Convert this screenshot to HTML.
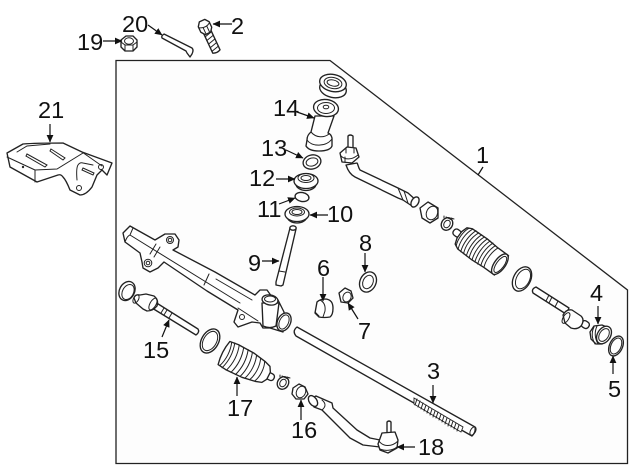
<!DOCTYPE html>
<html><head><meta charset="utf-8"><style>
html,body{margin:0;padding:0;background:#fff}
svg{display:block}
text{font-family:"Liberation Sans",sans-serif;font-size:23.5px;fill:#111}
.p{fill:#fff;stroke:#222;stroke-width:1.35;stroke-linejoin:round;stroke-linecap:round}
.t{fill:none;stroke:#222;stroke-width:1;stroke-linecap:round}
.a{stroke:#111;stroke-width:1.2;fill:none}
.h{fill:#111;stroke:none}
</style></head><body>
<svg width="640" height="471" viewBox="0 0 640 471" xmlns="http://www.w3.org/2000/svg">
<defs>
<marker id="m" markerUnits="userSpaceOnUse" markerWidth="8" markerHeight="8" refX="7" refY="4" orient="auto"><path d="M0 .6L7.500 4L0 7.400z" class="h"/></marker>
</defs>
<rect width="640" height="471" fill="#fff"/>
<path d="M116 60.500H330L627.500 290V463.500H116Z" fill="#fdfdfd" stroke="#222" stroke-width="1.300"/>
<path d="M483 167L478 175" class="a"/>

<!-- 19 nut -->
<g transform="translate(129,44)"><path class="p" d="M-8-4L-3-8H4L8-4V3L4 7H-4L-8 3Z"/><ellipse cx="0" cy="-3" rx="4.500" ry="3.200" class="t"/><path class="t" d="M-8-2L-4 1V7M8-2L4 1V7M-4 1H4"/></g>
<!-- 20 pin -->
<path class="p" d="M164 34L188 46L192 48Q194 50 192 54L190 57L187 53L186 51L162 38Q161 36 164 34Z"/>
<!-- 2 bolt -->
<g transform="translate(205,27) rotate(-25)">
<path class="p" d="M-4 4H4V27Q0 29-4 27Z"/>
<path class="t" d="M-4 9L4 7M-4 13L4 11M-4 17L4 15M-4 21L4 19M-4 25L4 23"/>
<path class="p" d="M-6-3L-3-7H3L6-3V3L3 7H-3L-6 3Z"/>
<path class="t" d="M-6-2Q0 2 6-2M-2 0V7M2 0V7"/>
</g>

<!-- 21 bracket -->
<path class="p" d="M7 153L23 144Q35 143 63 143L82 152L112 163L107 175L102 170L97 175L92 187Q86 195 80 195L70 190Q66 180 63 177Q61 174 58 175L37 182L10 167Z"/>
<path class="t" d="M7 157L35 170V182M35 170L57 169L83 153M17 152L27 146L50 144M77 180Q76 168 78 165Q80 162 83 163L93 165M82 152L102 166"/>
<path class="t" d="M27 154L47 165L45 167L26 156ZM51 149L65 158L63 160L50 151ZM83 168L94 173L93 175L82 170Z"/>
<circle cx="79" cy="188" r="2.500" class="t"/><circle cx="101" cy="167" r="2.500" class="t"/><circle cx="23" cy="167" r=".7" class="t"/>

<!-- 14 cap -->
<ellipse cx="333" cy="89" rx="13.500" ry="8.500" class="p" transform="rotate(12 333 89)"/>
<ellipse cx="333" cy="83" rx="13.500" ry="8.500" class="p" transform="rotate(12 333 83)"/>
<ellipse cx="333" cy="83" rx="9" ry="5.500" class="t" transform="rotate(12 333 83)"/>
<ellipse cx="333" cy="83" rx="6" ry="3" class="t" transform="rotate(12 333 83)"/>
<!-- 14 sleeve -->
<path class="p" d="M307 140L306 146Q309 151 319 151Q330 151 332 146L332 138Q331 134 328 133L334 116H315L311 132Q307 135 307 140Z"/>
<path class="t" d="M307 140C312 147 326 147 332 139M311 132C316 138 324 138 329 134"/>
<ellipse cx="326" cy="108" rx="12.500" ry="8.500" class="p" transform="rotate(8 326 108)"/>
<ellipse cx="326" cy="108" rx="8.500" ry="5.500" class="t"/><ellipse cx="326" cy="107" rx="2.800" ry="1.800" class="t"/>
<!-- 13 -->
<ellipse cx="312" cy="162" rx="9" ry="7" class="p" transform="rotate(-15 312 162)"/><ellipse cx="312" cy="162" rx="6" ry="4" class="t" transform="rotate(-15 312 162)"/>
<!-- 12 -->
<ellipse cx="306" cy="184" rx="10" ry="6.500" class="p"/><ellipse cx="306" cy="181" rx="12" ry="7.500" class="p"/><ellipse cx="306" cy="178" rx="8" ry="4.500" class="t"/><ellipse cx="306" cy="178" rx="5" ry="2.500" class="t"/>
<!-- 11 -->
<ellipse cx="302" cy="197" rx="7" ry="4.500" class="p" transform="rotate(10 302 197)"/>
<!-- 10 -->
<ellipse cx="297" cy="216" rx="10" ry="7" class="p"/><ellipse cx="297" cy="214" rx="12" ry="7.500" class="p"/><ellipse cx="297" cy="212" rx="7.500" ry="4" class="t"/><ellipse cx="297" cy="212" rx="5" ry="2.500" class="t"/>
<!-- 9 stud -->
<path class="p" d="M290 228L296 229L283 285L281 286L276 285L276 282Z"/><ellipse cx="293" cy="228" rx="3.200" ry="2.200" class="p"/><path class="t" d="M279 271L285 272"/>

<!-- upper tie rod -->
<path class="p" d="M348 136Q350 134 353 136L353 148L348 148Z"/>
<path class="p" d="M346 165C348 171 351 175 355 177L398 198L403 200L412 206L418 202L408 193L398 188L360 170C358 167 358 164 357 163Z"/>
<path class="t" d="M398 188L403 200M404 191L408 203"/>
<ellipse cx="415" cy="202" rx="3.500" ry="5.500" class="p" transform="rotate(30 415 202)"/>
<path class="p" d="M340 153L347 147L356 148L359 157L352 163L342 162Z"/>
<path class="t" d="M341 156C345 160 352 160 358 155M346 148L346 153M354 148L354 153M345 162L345 157"/>
<!-- upper nut -->
<path class="p" d="M420 208L428 202L438 208L438 218L430 223L422 218Z"/>
<ellipse cx="432" cy="213" rx="5.500" ry="7" class="t" transform="rotate(25 432 213)"/>
<!-- upper clip -->
<ellipse cx="447" cy="224" rx="5.500" ry="6.500" class="p" transform="rotate(30 447 224)"/><ellipse cx="447" cy="224" rx="3" ry="4" class="t" transform="rotate(30 447 224)"/><path class="t" d="M444 216L444 218M451 218L454 219M446 217L452 220"/>

<!-- upper boot -->
<g transform="translate(457,233) rotate(36)">
<rect x="-4" y="-3.500" width="8" height="7" rx="3" class="p"/>
<path class="p" d="M3-4L5-10L10-12.500L28-13L42-12L55-12L58 0L55 12L42 12L28 13L10 12.500L5 10L3 4Z"/>
<path class="t" d="M7-11C4-5 4 5 7 11M10.500-12.500C7-5 7 5 10.500 12.500M14-13C11-5 11 5 14 13M17.500-13C14-5 14 5 17.500 13M21-13C18-5 18 5 21 13M24.500-13C21-5 21 5 24.500 13M28-13C25-5 25 5 28 13M31.500-13C28.500-5 28.500 5 31.500 13M35-13C32-5 32 5 35 13M38.500-12.500C35.500-5 35.500 5 38.500 12.500M42-12C39-5 39 5 42 12"/>
<ellipse cx="53" cy="0" rx="5.500" ry="12" class="p"/>
<ellipse cx="53.500" cy="0" rx="3.800" ry="9.500" class="t"/>
</g>
<!-- ring upper -->
<ellipse cx="522" cy="279" rx="8.500" ry="13" class="p" transform="rotate(28 522 279)"/><ellipse cx="523" cy="279" rx="6.500" ry="10.500" class="t" transform="rotate(28 523 279)"/>
<!-- inner rod right -->
<path class="p" d="M536 287L569 308L566 314L533 293Q531 289 536 287Z"/>
<path class="t" d="M549 295L546 301M552 297L549 303M558 301L555 307"/>
<rect x="581" y="321" width="8" height="7" rx="3" class="p" transform="rotate(32 585 325)"/>
<path class="p" d="M563 315Q566 309 572 310L581 316Q585 320 581 326Q577 330 571 328L565 323Z"/>
<ellipse cx="566" cy="318" rx="2.800" ry="6" class="t" transform="rotate(32 566 318)"/>
<!-- 4 -->
<path class="p" d="M594 326L602 325L609 328L610 338L602 344L596 344L591 339L590 332Z"/><path class="t" d="M594 327Q590 335 595 344M597 326Q593 335 598 344"/>
<ellipse cx="604" cy="335" rx="6.500" ry="9.500" class="p" transform="rotate(32 604 335)"/><ellipse cx="604" cy="335" rx="4.500" ry="7" class="t" transform="rotate(32 604 335)"/>
<!-- 5 -->
<ellipse cx="616" cy="346" rx="6.500" ry="10.500" class="p" transform="rotate(25 616 346)"/><ellipse cx="616" cy="346" rx="5" ry="8.500" class="t" transform="rotate(25 616 346)"/>
<!-- 8 -->
<ellipse cx="368" cy="282" rx="8" ry="10.500" class="p" transform="rotate(25 368 282)"/><ellipse cx="368" cy="282" rx="5" ry="7" class="t" transform="rotate(25 368 282)"/>
<!-- 7 -->
<path class="p" d="M339 293L345 288L351 291L353 298L348 303L341 302Z"/><ellipse cx="347" cy="297" rx="4" ry="5" class="t" transform="rotate(25 347 297)"/>
<!-- 6 -->
<path class="p" d="M317 302Q320 299 326 299Q333 300 333 308Q333 315 330 317Q324 318 319 317L315 313Z"/><path class="t" d="M320 300Q326 303 325 311L323 317M315 312L319 316"/>

<!-- housing -->
<path class="p" d="M123 233L130 226L155 240L165 234H175L179 240L178 247L173 250L215 272L255 295L260 290H267L272 297L278 300L284 312L283 332L270 328H263L260 323L252 322L238 327L234 322L238 310L207 291L164 262L158 268L150 272L143 268L142 262L140 253L125 242Z"/>
<path class="t" d="M125 242Q127 236 130 235L133 228M130 235L240 303M156 244L150 254M160 247L154 257M209 274L204 285M216 279L252 300M238 308L258 321"/>
<circle cx="170" cy="240" r="3.500" class="t"/><circle cx="148" cy="263" r="3.800" class="t"/><circle cx="148" cy="263" r="1.800" class="t"/><circle cx="170" cy="240" r="1.800" class="t"/><circle cx="242" cy="317" r="2.500" class="t"/>
<path class="p" d="M262 303L263 326Q270 329 276 326L279 303Z"/>
<ellipse cx="270" cy="300" rx="8" ry="5" class="p" transform="rotate(10 270 300)"/><ellipse cx="270" cy="299" rx="5.500" ry="3" class="t"/>
<ellipse cx="284" cy="322" rx="6.500" ry="9.500" class="p" transform="rotate(25 284 322)"/><ellipse cx="284" cy="322" rx="4.500" ry="7.500" class="t" transform="rotate(25 284 322)"/>

<!-- rack 3 -->
<path class="p" d="M297 327L475 427Q476 432 472 436L296 336Q292 331 297 327Z"/>
<ellipse cx="473" cy="431" rx="2.500" ry="4.500" class="t" transform="rotate(30 473 431)"/>
<path d="M414 398L463 427L461 432L414 404Z" fill="#fff" stroke="#222" stroke-width=".9"/>
<path class="t" d="M417 399L415 405M420 401L418 407M423 403L421 409M426 405L424 411M429 407L427 413M432 409L430 415M435 411L433 417M438 412L436 418M441 414L439 420M444 416L442 422M447 418L445 424M450 420L448 426M453 421L451 427M456 423L454 429M459 425L457 431"/>

<!-- left ring -->
<ellipse cx="127" cy="291" rx="7.500" ry="10" class="p" transform="rotate(28 127 291)"/><ellipse cx="128" cy="292" rx="5.500" ry="8" class="t" transform="rotate(28 128 292)"/>
<!-- inner rod 15 -->
<path class="p" d="M155 302L198 329Q200 332 196 335L152 308Z"/>
<path class="t" d="M164 308L161 313M167 310L164 315M172 313L169 318"/>
<path class="p" d="M134 298Q135 294 140 295L146 294L154 296Q159 300 157 306Q153 311 147 311L143 309L136 303Z"/>
<ellipse cx="136" cy="299" rx="2.500" ry="4.500" class="t" transform="rotate(30 136 299)"/>
<ellipse cx="153" cy="304" rx="3" ry="6.500" class="t" transform="rotate(30 153 304)"/>
<!-- ring 209 -->
<ellipse cx="210" cy="341" rx="8.500" ry="13" class="p" transform="rotate(30 210 341)"/><ellipse cx="210" cy="341" rx="6.500" ry="10.500" class="t" transform="rotate(30 210 341)"/>
<!-- lower boot -->
<g transform="translate(273,378) rotate(207)">
<rect x="-1" y="-3.500" width="8" height="7" rx="3" class="p"/>
<path class="p" d="M5-4L8-9L14-11L28-13.500L46-14L55-13Q58 0 55 13L46 14L28 13.500L14 11L8 9L5 4Z"/>
<path class="t" d="M15-11C12-5 12 5 15 11M20-12C17-5 17 5 20 12M25-13C22-5 22 5 25 13M30-13.500C27-5 27 5 30 13.500M35-14C32-5 32 5 35 14M40-14C37-5 37 5 40 14M45-14C42-5 42 5 45 14M50-14C47-5 47 5 50 14M53-13C50-5 50 5 53 13"/>
</g>
<!-- lower clip -->
<ellipse cx="283" cy="383" rx="5.500" ry="6.500" class="p" transform="rotate(30 283 383)"/><ellipse cx="283" cy="383" rx="3" ry="4" class="t" transform="rotate(30 283 383)"/><path class="t" d="M280 375L280 377M287 377L290 378M282 376L288 379"/>
<!-- lower nut -->
<path class="p" d="M293 388L299 384L305 387L308 394L304 399L296 399L292 394Z"/><ellipse cx="301" cy="392" rx="4.500" ry="6" class="t" transform="rotate(25 301 392)"/>
<!-- lower tie rod -->
<path class="p" d="M310 399L316 396L332 403L333 408L357 430L370 438L380 440L380 447L363 445L350 438L322 410L314 407Z"/>
<path class="t" d="M322 400Q328 405 322 410"/>
<ellipse cx="313" cy="401" rx="3.800" ry="6" class="p" transform="rotate(-35 313 401)"/>
<path class="p" d="M387 422Q389 420 391 422L391 433L387 433Z"/>
<path class="p" d="M382 433L395 432L398 440L397 448L388 453L380 450L378 444Z"/>
<path class="t" d="M379 441C383 447 392 447 398 441M380 449C385 451 392 451 397 447"/>

<!-- arrows -->
<g class="a">
<path d="M103 41H122" marker-end="url(#m)"/>
<path d="M148 25L162 35" marker-end="url(#m)"/>
<path d="M232 24H213" marker-end="url(#m)"/>
<path d="M50 124V142" marker-end="url(#m)"/>
<path d="M297 112L314 118" marker-end="url(#m)"/>
<path d="M286 150L303 158" marker-end="url(#m)"/>
<path d="M276 179H295" marker-end="url(#m)"/>
<path d="M279 204L295 198" marker-end="url(#m)"/>
<path d="M328 215H310" marker-end="url(#m)"/>
<path d="M365 253V272" marker-end="url(#m)"/>
<path d="M323 277V301" marker-end="url(#m)"/>
<path d="M358 319L348 303" marker-end="url(#m)"/>
<path d="M262 261H279" marker-end="url(#m)"/>
<path d="M162 337L169 320" marker-end="url(#m)"/>
<path d="M237 396V377" marker-end="url(#m)"/>
<path d="M301 420V400" marker-end="url(#m)"/>
<path d="M415 447H397" marker-end="url(#m)"/>
<path d="M433 385V403" marker-end="url(#m)"/>
<path d="M598 306V324" marker-end="url(#m)"/>
<path d="M613 374V356" marker-end="url(#m)"/>
</g>

<!-- labels -->
<text x="77" y="50">19</text>
<text x="122" y="32">20</text>
<text x="231" y="34">2</text>
<text x="38" y="118">21</text>
<text x="273" y="116">14</text>
<text x="261" y="156">13</text>
<text x="249" y="186">12</text>
<text x="257" y="217">11</text>
<text x="327" y="222">10</text>
<text x="476" y="163">1</text>
<text x="359" y="251">8</text>
<text x="317" y="276">6</text>
<text x="358" y="339">7</text>
<text x="248" y="271">9</text>
<text x="143" y="358">15</text>
<text x="227" y="416">17</text>
<text x="291" y="438">16</text>
<text x="418" y="455">18</text>
<text x="427" y="379">3</text>
<text x="590" y="301">4</text>
<text x="608" y="397">5</text>
</svg>
</body></html>
